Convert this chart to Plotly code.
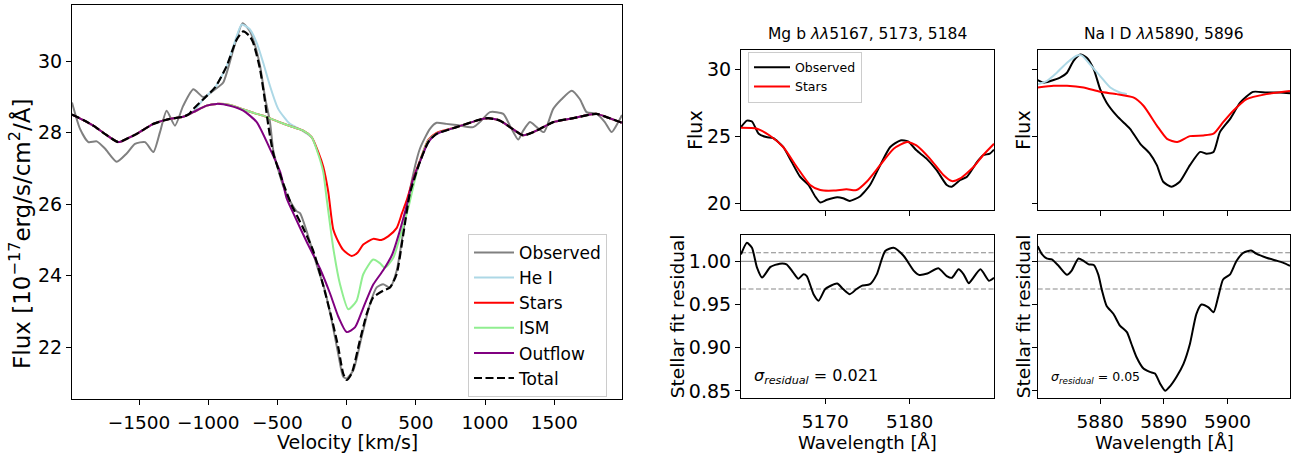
import plotly.graph_objects as go

# ---------------- data: left panel (velocity space) ----------------
vel_obs = [-1985, -1927, -1867, -1806, -1747, -1662, -1590, -1530, -1457, -1397, -1349, -1301, -1241,
           -1181, -1108, -1036, -950, -892, -819, -752, -700, -675, -627, -590, -554, -530, -490,
           -458, -410, -360, -337, -289, -217, -157, -108, -61, -25, 0, 48, 108, 168, 217, 264,
           313, 361, 409, 457, 530, 602, 650, 720, 795, 915, 963, 1036, 1132, 1180, 1240, 1276,
           1325, 1373, 1426, 1493, 1553, 1626, 1686, 1734, 1806, 1866, 1915, 1963, 1990]
flux_obs = [28.85, 28.11, 27.74, 27.76, 27.56, 27.19, 27.42, 27.69, 27.74, 27.46, 28.02, 28.62, 28.2,
            28.76, 29.22, 29.0, 29.22, 29.41, 30.33, 31.07, 30.85, 30.61, 29.9, 29.0, 28.3, 27.5, 26.9,
            26.5, 26.1, 25.8, 25.75, 25.24, 24.31, 23.58, 22.74, 21.81, 21.17, 21.12, 21.35, 22.28, 23.2, 23.67, 23.76,
            23.67, 24.13, 25.24, 26.4, 27.56, 28.11, 28.28, 28.25, 28.22, 28.16, 28.3, 28.58, 28.53, 28.2, 27.81, 28.06,
            28.3, 28.16, 28.02, 28.67, 28.94, 29.18, 28.94, 28.58, 28.53, 28.3, 28.02, 28.3, 28.5]

vel_hei = [-1181, -1108, -1036, -951, -867, -795, -759, -700, -650, -603, -554, -495, -410, -337, -253]
flux_hei = [28.45, 28.6, 28.94, 29.27, 29.87, 30.7, 31.03, 30.9, 30.52, 29.96, 29.31, 28.67, 28.25, 28.1, 27.88]

vel_stars = [-1985, -1900, -1831, -1740, -1650, -1580, -1517, -1397, -1277, -1181, -1108, -1012, -939,
             -843, -750, -650, -603, -500, -410, -314, -253, -205, -169, -133, -97, -60, -25, 36, 80,
             120, 192, 250, 300, 361, 400, 433, 480, 530, 590, 650, 795, 963, 1023, 1108, 1180, 1276,
             1349, 1421, 1493, 1637, 1806, 1878, 1990]
flux_stars = [28.51, 28.35, 28.2, 27.95, 27.74, 27.85, 27.97, 28.25, 28.39, 28.45, 28.58, 28.76, 28.81,
              28.78, 28.66, 28.53, 28.48, 28.32, 28.19, 28.06, 27.88, 27.46, 27.05, 26.35, 25.3, 24.95, 24.72, 24.55, 24.65,
              24.87, 25.03, 25.0, 25.1, 25.33, 25.75, 26.1, 26.7, 27.22, 27.8, 28.0, 28.16, 28.37, 28.41, 28.34, 28.16, 27.93,
              28.02, 28.16, 28.3, 28.41, 28.53, 28.44, 28.28]

vel_ism = [-1985, -1900, -1831, -1740, -1650, -1580, -1517, -1397, -1277, -1181, -1108, -1012, -939,
           -843, -750, -650, -603, -500, -410, -314, -253, -205, -169, -145, -97, -48, 12, 72, 120,
           192, 240, 277, 337, 397, 445, 500, 530, 590, 650, 795, 963, 1023, 1108, 1180, 1276,
           1349, 1421, 1493, 1637, 1806, 1878, 1990]
flux_ism = [28.51, 28.35, 28.2, 27.95, 27.74, 27.85, 27.97, 28.25, 28.39, 28.45, 28.58, 28.76, 28.81,
            28.78, 28.66, 28.53, 28.48, 28.32, 28.19, 28.06, 27.88, 27.4, 26.9, 26.17, 24.78, 23.76, 23.06, 23.3, 24.04,
            24.45, 24.35, 24.22, 24.5, 25.24, 25.89, 26.8, 27.2, 27.78, 27.98, 28.16, 28.37, 28.41, 28.34, 28.16, 27.93,
            28.02, 28.16, 28.3, 28.41, 28.53, 28.44, 28.28]

vel_out = [-1985, -1900, -1831, -1740, -1650, -1580, -1517, -1397, -1277, -1181, -1108, -1012, -939,
           -843, -747, -650, -560, -480, -434, -386, -289, -193, -120, -60, 0, 60, 120, 192, 264,
           330, 380, 433, 480, 530, 590, 650, 795, 963, 1023, 1108, 1180, 1276,
           1349, 1421, 1493, 1637, 1806, 1878, 1990]
flux_out = [28.51, 28.35, 28.2, 27.95, 27.74, 27.85, 27.97, 28.25, 28.39, 28.45, 28.58, 28.76, 28.81,
            28.76, 28.62, 28.3, 27.6, 26.9, 26.17, 25.75, 24.95, 24.2, 23.5, 22.85, 22.42, 22.55, 23.1, 23.75, 24.15,
            24.6, 25.2, 25.95, 26.7, 27.19, 27.74, 27.97, 28.16, 28.37, 28.41, 28.34, 28.16, 27.93,
            28.02, 28.16, 28.3, 28.41, 28.53, 28.44, 28.28]

vel_tot = [-1985, -1900, -1831, -1740, -1650, -1580, -1517, -1397, -1277, -1181, -1140, -1108, -1036,
           -951, -867, -795, -747, -700, -675, -627, -592, -566, -530, -458, -398, -314, -241, -169,
           -108, -61, -25, 0, 36, 96, 145, 192, 264, 313, 361, 409, 457, 530, 590, 650, 795, 963,
           1023, 1108, 1180, 1276, 1349, 1421, 1493, 1637, 1806, 1878, 1990]
flux_tot = [28.51, 28.35, 28.2, 27.95, 27.74, 27.85, 27.97, 28.25, 28.39, 28.45, 28.52, 28.67, 28.94,
            29.27, 29.87, 30.61, 30.84, 30.7, 30.52, 29.8, 28.94, 28.2, 27.42, 26.58, 25.98, 25.33, 24.69, 23.72,
            22.8, 22.0, 21.26, 21.08, 21.26, 22.19, 22.93, 23.39, 23.58, 23.67, 24.04, 25.15, 26.3, 27.19, 27.74, 27.97,
            28.16, 28.37, 28.41, 28.34, 28.16, 27.93, 28.02, 28.16, 28.3, 28.41, 28.53, 28.44, 28.28]

# ---------------- data: Mg b window ----------------
wl_mg_obs = [5160.0, 5160.7, 5161.3, 5162.1, 5163.0, 5163.8, 5165.0, 5166.0, 5167.0, 5168.0, 5168.8,
             5169.4, 5170.2, 5171.4, 5172.1, 5172.9, 5174.1, 5175.3, 5176.5, 5177.7, 5178.9, 5179.8,
             5180.8, 5182.0, 5183.2, 5184.4, 5185.0, 5186.0, 5186.8, 5188.0, 5188.7, 5189.5, 5190.0]
flux_mg_obs = [25.68, 26.17, 26.1, 25.19, 24.94, 24.87, 24.2, 23.09, 21.98, 21.36, 20.5,
               20.05, 20.25, 20.44, 20.37, 20.17, 20.5, 21.36, 22.84, 24.2, 24.69, 24.62,
               23.95, 23.33, 22.47, 21.36, 21.23, 21.73, 21.98, 23.09, 23.58, 23.7, 24.0]
wl_mg_stars = [5160.0, 5161.9, 5163.4, 5165.0, 5166.6, 5168.2, 5169.4, 5171.0, 5172.5, 5173.7, 5174.9,
               5176.5, 5178.1, 5179.7, 5180.8, 5182.4, 5184.0, 5185.0, 5186.0, 5187.6, 5188.7, 5190.0]
flux_mg_stars = [25.63, 25.56, 25.06, 24.2, 22.72, 21.36, 20.98, 20.94, 21.04, 20.98, 21.6,
                 22.84, 24.07, 24.57, 24.32, 23.33, 22.1, 21.65, 21.85, 22.72, 23.58, 24.44]
wl_mg_res = [5160.0, 5160.7, 5161.3, 5161.9, 5162.5, 5163.5, 5164.6, 5165.4, 5166.2, 5166.8, 5167.4,
             5167.8, 5168.6, 5169.2, 5170.0, 5171.4, 5172.1, 5172.9, 5173.7, 5174.3, 5175.3, 5176.1,
             5177.1, 5178.1, 5179.3, 5180.5, 5181.1, 5182.1, 5183.4, 5184.4, 5185.0, 5185.8, 5186.4,
             5187.0, 5187.4, 5188.4, 5189.4, 5190.0]
res_mg = [1.008, 1.0215, 1.0157, 0.9928, 0.9813, 0.9936, 0.9974, 0.9966, 0.987, 0.980, 0.985,
          0.983, 0.962, 0.9545, 0.968, 0.9744, 0.968, 0.962, 0.968, 0.9717, 0.9736, 0.985,
          1.012, 1.0157, 1.0062, 0.989, 0.9844, 0.9859, 0.992, 0.983, 0.981, 0.9908, 0.985,
          0.9747, 0.979, 0.9908, 0.9775, 0.981]
resid_mean = 0.989
resid_std_mg = 0.021
resid_std_na = 0.05

# ---------------- data: Na I D window ----------------
wl_na_obs = [5870.2, 5871.1, 5872.2, 5873.7, 5874.8, 5875.8, 5876.9, 5877.9, 5879.0, 5880.0, 5881.0,
             5882.6, 5883.9, 5884.7, 5886.3, 5887.8, 5888.9, 5889.9, 5891.2, 5892.5, 5894.1, 5895.7,
             5896.7, 5897.8, 5898.8, 5900.4, 5902.0, 5904.0, 5906.1, 5908.2, 5909.8]
flux_na_obs = [29.19, 29.01, 29.13, 29.38, 29.75, 30.62, 31.11, 30.87, 30.0, 28.52, 27.53,
               26.54, 25.93, 25.56, 24.44, 23.7, 22.84, 21.6, 21.23, 21.6, 22.84, 23.83,
               23.7, 23.83, 25.31, 26.3, 27.53, 28.32, 28.27, 28.27, 28.22]
wl_na_stars = [5870.2, 5872.7, 5874.8, 5877.4, 5880.0, 5882.6, 5885.2, 5886.8, 5888.9, 5890.5, 5892.1,
               5894.1, 5896.2, 5897.8, 5899.3, 5900.9, 5903.0, 5906.1, 5909.8]
flux_na_stars = [28.64, 28.77, 28.77, 28.64, 28.32, 28.15, 27.9, 27.28, 25.8, 24.81, 24.57,
                 25.01, 25.06, 25.19, 26.05, 26.91, 27.78, 28.15, 28.39]
wl_na_hei = [5870.2, 5871.6, 5873.2, 5874.8, 5876.4, 5877.1, 5878.4, 5880.0, 5881.6, 5883.1, 5884.2]
flux_na_hei = [28.89, 29.13, 29.75, 30.5, 31.04, 31.04, 30.37, 29.5, 28.64, 28.27, 28.15]
wl_na_res = [5870.2, 5870.9, 5871.6, 5872.4, 5873.5, 5874.8, 5875.5, 5876.6, 5877.4, 5878.2, 5879.0,
             5879.7, 5880.3, 5881.0, 5882.1, 5883.1, 5884.2, 5884.9, 5885.7, 5886.8, 5887.8, 5888.6,
             5889.4, 5890.2, 5891.0, 5892.0, 5893.1, 5894.1, 5895.1, 5895.9, 5897.0, 5897.8, 5898.5,
             5899.3, 5900.4, 5901.4, 5902.5, 5903.7, 5904.5, 5906.1, 5907.6, 5908.7, 5909.8]
res_na = [1.0177, 1.008, 1.0034, 1.0023, 0.9947, 0.9844, 0.989, 1.0034, 1.0005, 0.9966, 0.9959,
          0.985, 0.966, 0.9487, 0.939, 0.9257, 0.918, 0.9046, 0.8893, 0.8759, 0.872, 0.870,
          0.8586, 0.8502, 0.8556, 0.8663, 0.8816, 0.9046, 0.939, 0.95, 0.9468, 0.941, 0.958,
          0.979, 0.985, 1.0005, 1.010, 1.0126, 1.0089, 1.0043, 1.0011, 0.9985, 0.9947]

# ---------------- layout helpers ----------------
W, H = 1293, 460
FONT = "DejaVu Sans"


def fx(p):
    return p / W


def fy(p):
    return 1 - p / H


SPL = dict(shape="spline", smoothing=0.6)

fig = go.Figure()

# left panel
fig.add_trace(go.Scatter(x=vel_obs, y=flux_obs, mode="lines", name="Observed",
                         line=dict(color="#808080", width=2, **SPL), xaxis="x", yaxis="y"))
fig.add_trace(go.Scatter(x=vel_hei, y=flux_hei, mode="lines", name="He I",
                         line=dict(color="#ADD8E6", width=2, **SPL), xaxis="x", yaxis="y"))
fig.add_trace(go.Scatter(x=vel_stars, y=flux_stars, mode="lines", name="Stars",
                         line=dict(color="red", width=2, **SPL), xaxis="x", yaxis="y"))
fig.add_trace(go.Scatter(x=vel_ism, y=flux_ism, mode="lines", name="ISM",
                         line=dict(color="#90EE90", width=2, **SPL), xaxis="x", yaxis="y"))
fig.add_trace(go.Scatter(x=vel_out, y=flux_out, mode="lines", name="Outflow",
                         line=dict(color="purple", width=2, **SPL), xaxis="x", yaxis="y"))
fig.add_trace(go.Scatter(x=vel_tot, y=flux_tot, mode="lines", name="Total",
                         line=dict(color="black", width=2.2, dash="8px,3.5px", **SPL), xaxis="x", yaxis="y"))

# Mg b top
fig.add_trace(go.Scatter(x=wl_mg_obs, y=flux_mg_obs, mode="lines", name="Observed", legend="legend2",
                         line=dict(color="black", width=2, **SPL), xaxis="x2", yaxis="y2"))
fig.add_trace(go.Scatter(x=wl_mg_stars, y=flux_mg_stars, mode="lines", name="Stars", legend="legend2",
                         line=dict(color="red", width=2, **SPL), xaxis="x2", yaxis="y2"))
# Na I D top
fig.add_trace(go.Scatter(x=wl_na_obs, y=flux_na_obs, mode="lines", showlegend=False,
                         line=dict(color="black", width=2, **SPL), xaxis="x3", yaxis="y3"))
fig.add_trace(go.Scatter(x=wl_na_hei, y=flux_na_hei, mode="lines", showlegend=False,
                         line=dict(color="#ADD8E6", width=2, **SPL), xaxis="x3", yaxis="y3"))
fig.add_trace(go.Scatter(x=wl_na_stars, y=flux_na_stars, mode="lines", showlegend=False,
                         line=dict(color="red", width=2, **SPL), xaxis="x3", yaxis="y3"))
# residuals
fig.add_trace(go.Scatter(x=wl_mg_res, y=res_mg, mode="lines", showlegend=False,
                         line=dict(color="black", width=2, **SPL), xaxis="x4", yaxis="y4"))
fig.add_trace(go.Scatter(x=wl_na_res, y=res_na, mode="lines", showlegend=False,
                         line=dict(color="black", width=2, **SPL), xaxis="x5", yaxis="y5"))

# reference lines in residual panels
for ax in ("4", "5"):
    fig.add_shape(type="line", xref=f"x{ax} domain", yref=f"y{ax}", x0=0, x1=1, y0=1.0, y1=1.0,
                  line=dict(color="#999999", width=1.2), layer="below")
    for yv in (resid_mean - resid_std_mg, resid_mean + resid_std_mg):
        fig.add_shape(type="line", xref=f"x{ax} domain", yref=f"y{ax}", x0=0, x1=1, y0=yv, y1=yv,
                      line=dict(color="#888888", width=1.2, dash="5px,2.5px"), layer="below")

AX = dict(showline=True, linecolor="black", linewidth=1.1, mirror=True, ticks="outside",
          ticklen=5, tickwidth=1.1, tickcolor="black", showgrid=False, zeroline=False,
          tickfont=dict(family=FONT, size=19, color="black"))
AXX = dict(AX, ticklabelstandoff=2, tickfont=dict(family=FONT, size=18.5, color="black"))

fig.update_layout(
    width=W, height=H, autosize=False,
    margin=dict(l=0, r=0, t=0, b=0),
    paper_bgcolor="white", plot_bgcolor="white",
    font=dict(family=FONT, color="black"),
    xaxis=dict(AXX, domain=[fx(72), fx(622)], range=[-1985, 1990],
               tickvals=[-1500, -1000, -500, 0, 500, 1000, 1500], anchor="y"),
    yaxis=dict(AX, domain=[fy(402), fy(5)], range=[20.56, 31.58],
               tickvals=[22, 24, 26, 28, 30], anchor="x"),
    xaxis2=dict(AX, domain=[fx(741), fx(994)], range=[5160, 5190],
                tickvals=[5170, 5180], showticklabels=False, anchor="y2"),
    yaxis2=dict(AX, domain=[fy(211.7), fy(50)], range=[19.5, 31.48],
                tickvals=[20, 25, 30], anchor="x2"),
    xaxis3=dict(AX, domain=[fx(1037.7), fx(1290)], range=[5870.2, 5909.8],
                tickvals=[5880, 5890, 5900], showticklabels=False, anchor="y3"),
    yaxis3=dict(AX, domain=[fy(211.7), fy(50)], range=[19.5, 31.48],
                tickvals=[20, 25, 30], showticklabels=False, anchor="x3"),
    xaxis4=dict(AXX, domain=[fx(741), fx(994)], range=[5160, 5190],
                tickvals=[5170, 5180], anchor="y4"),
    yaxis4=dict(AX, domain=[fy(401.7), fy(236.7)], range=[0.8415, 1.031],
                tickvals=[0.85, 0.90, 0.95, 1.00], tickformat=".2f", anchor="x4"),
    xaxis5=dict(AXX, domain=[fx(1037.7), fx(1290)], range=[5870.2, 5909.8],
                tickvals=[5880, 5890, 5900], anchor="y5"),
    yaxis5=dict(AX, domain=[fy(401.7), fy(236.7)], range=[0.8415, 1.031],
                tickvals=[0.85, 0.90, 0.95, 1.00], showticklabels=False, anchor="x5"),
    legend=dict(x=fx(468), y=fy(236), xanchor="left", yanchor="top", itemwidth=40,
                bgcolor="rgba(255,255,255,0.8)", bordercolor="#cccccc", borderwidth=1,
                font=dict(family=FONT, size=17, color="black"), traceorder="normal"),
    legend2=dict(x=fx(748), y=fy(52), xanchor="left", yanchor="top", itemwidth=36,
                 bgcolor="rgba(255,255,255,0.8)", bordercolor="#cccccc", borderwidth=1,
                 font=dict(family=FONT, size=12.5, color="black"), traceorder="normal"),
)

ann = []


def label(text, xp, yp, size=19, angle=0, xanchor="center"):
    ann.append(dict(text=text, x=fx(xp), y=fy(yp), xref="paper", yref="paper", showarrow=False,
                    textangle=angle, xanchor=xanchor, yanchor="middle",
                    font=dict(family=FONT, size=size, color="black")))


label("Velocity [km/s]", 347, 446, size=19)
label("Flux [10<sup>−17</sup>erg/s/cm<sup>2</sup>/Å]", 20, 236, size=23, angle=-90)
label("Flux", 695, 131, angle=-90)
label("Flux", 1023, 131, angle=-90)
label("Stellar fit residual", 677, 319, size=18.5, angle=-90)
label("Stellar fit residual", 1023, 319, size=18.5, angle=-90)
label("Wavelength [Å]", 867.5, 446, size=18)
label("Wavelength [Å]", 1164, 446, size=18)
label("Mg b <i>λλ</i>5167, 5173, 5184", 867.5, 34, size=15.5)
label("Na I D <i>λλ</i>5890, 5896", 1164, 34, size=15.5)
label("<i>σ</i><sub><i>residual</i></sub> = 0.021", 752, 380, size=16, xanchor="left")
label("<i>σ</i><sub><i>residual</i></sub> = 0.05", 1049, 381, size=12.5, xanchor="left")
fig.update_layout(annotations=ann)

fig.write_html("out.html", config={"displayModeBar": False},
               post_script="document.body.style.margin='0px';")
